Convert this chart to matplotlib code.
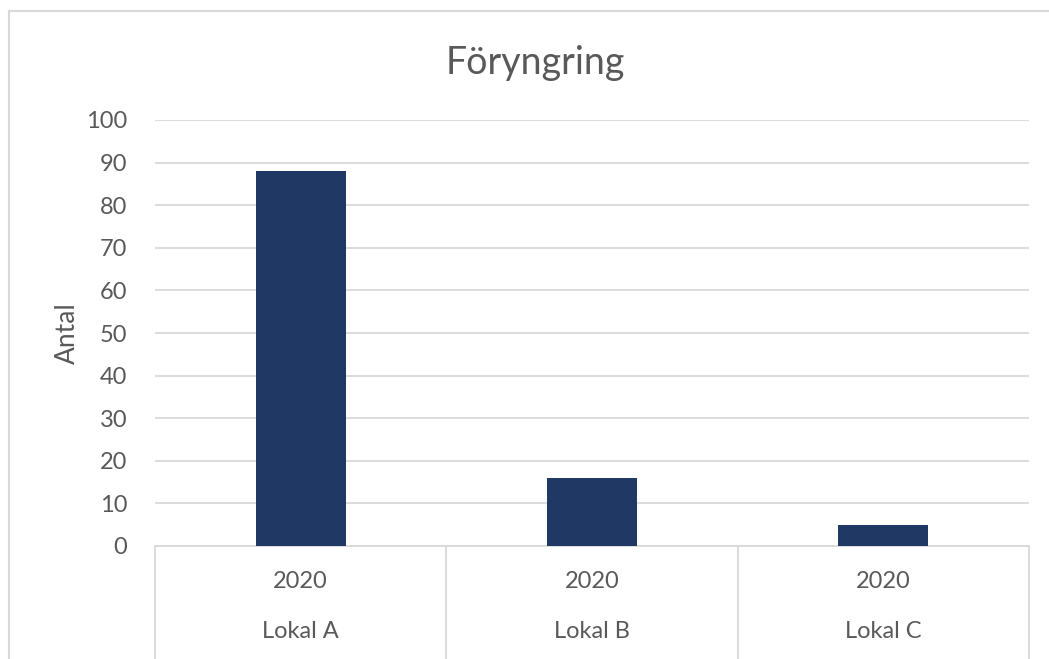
import matplotlib.pyplot as plt
from matplotlib.transforms import blended_transform_factory
from matplotlib.lines import Line2D

years = ["2020", "2020", "2020"]
sites = ["Lokal A", "Lokal B", "Lokal C"]
counts = [88, 16, 5]

plt.rcParams['font.family'] = ['Lato', 'DejaVu Sans']
text_color = "#595959"
grid_color = "#d9d9d9"
bar_color = "#203864"

W, H = 1049, 659
fig = plt.figure(figsize=(W / 100, H / 100), dpi=100)
ax = fig.add_axes([155 / W, (H - 546) / H, (1029 - 155) / W, (546 - 120) / H])

x = range(len(counts))
ax.bar(x, counts, width=0.31, color=bar_color, zorder=3)

ax.set_xlim(-0.5, len(counts) - 0.5)
ax.set_ylim(0, 100)
ax.set_yticks(range(0, 101, 10))
ax.yaxis.grid(True, color=grid_color, linewidth=1.3)
ax.tick_params(axis='y', length=0, pad=20, labelsize=17, labelcolor=text_color)
ax.set_xticks([])
for side in ["top", "right", "left"]:
    ax.spines[side].set_visible(False)
ax.spines["bottom"].set_color(grid_color)
ax.spines["bottom"].set_linewidth(1.3)
ax.set_ylabel("Antal", fontsize=19, color=text_color, labelpad=4)

# two-level category axis
trans = blended_transform_factory(ax.transData, ax.transAxes)
bottom = -(H - 546) / (546 - 120)
for b in [i - 0.5 for i in range(len(counts) + 1)]:
    ax.add_line(Line2D([b, b], [0, bottom], transform=trans, color=grid_color,
                       linewidth=1.3, clip_on=False))
y_year = -(581 - 546) / (546 - 120)
y_site = -(632 - 546) / (546 - 120)
for i, (yr, site) in enumerate(zip(years, sites)):
    ax.text(i, y_year, yr, transform=trans, ha='center', va='center',
            fontsize=17, color=text_color)
    ax.text(i, y_site, site, transform=trans, ha='center', va='center',
            fontsize=17, color=text_color)

fig.text(535 / W, 1 - 63 / H, "Föryngring", ha='center', va='center',
         fontsize=27, color=text_color)

# chart area border (left and top visible)
fig.add_artist(Line2D([9 / W, 9 / W], [0, 1 - 11 / H], transform=fig.transFigure,
                      color=grid_color, linewidth=1.5))
fig.add_artist(Line2D([9 / W, 1], [1 - 11 / H, 1 - 11 / H], transform=fig.transFigure,
                      color=grid_color, linewidth=1.5))

fig.savefig("out.png", dpi=100)
